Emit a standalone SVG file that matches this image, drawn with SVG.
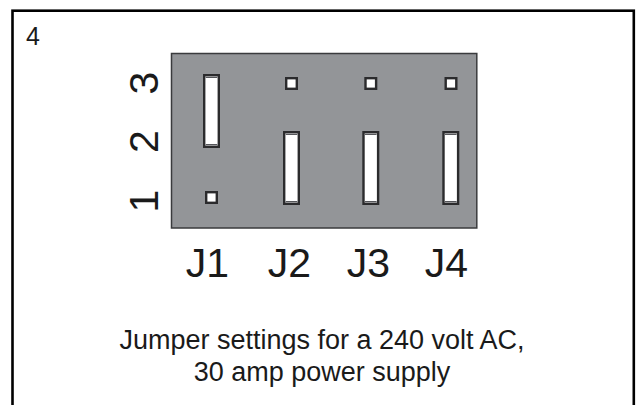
<svg xmlns="http://www.w3.org/2000/svg" width="636" height="405" viewBox="0 0 636 405">
<style>
text{font-family:"Liberation Sans",Arial,sans-serif;fill:#1a1a1a}
.j{font-size:41px;text-anchor:middle}
.n{font-size:41px;text-anchor:middle}
.c{font-size:27px;text-anchor:middle}
.s{fill:#fff;stroke:#2b2b2d;stroke-width:2.400}
.l{fill:#fff;stroke:#2b2b2d;stroke-width:2.400}
.t{stroke:#55565a;stroke-width:1.200;fill:none}
</style>
<defs>
<g id="long"><rect class="l" x="0" y="0" width="14.600" height="71.600"/><path class="t" d="M1.500 2.200H13.100M1.500 69.400H13.100"/></g>
<rect id="pin" class="s" x="0" y="0" width="10.600" height="10.600"/>
</defs>
<rect x="12.500" y="10.700" width="621.300" height="400" fill="#fff" stroke="#000" stroke-width="2.600"/>
<text x="26" y="44.500" style="font-size:25px">4</text>
<g id="board"><rect x="171.500" y="53.500" width="305.300" height="174.500" fill="#939598" stroke="#3a3b3d" stroke-width="1.500"/></g>
<g id="j1"><use href="#long" x="204.200" y="75.200"/><use href="#pin" x="206.200" y="192.200"/><text class="j" x="207.500" y="276.700">J1</text></g>
<g id="j2"><use href="#pin" x="286.200" y="78.200"/><use href="#long" x="284.200" y="132.200"/><text class="j" x="289.500" y="276.700">J2</text></g>
<g id="j3"><use href="#pin" x="365.500" y="78.200"/><use href="#long" x="363.500" y="132.200"/><text class="j" x="368.500" y="276.700">J3</text></g>
<g id="j4"><use href="#pin" x="445.700" y="78.200"/><use href="#long" x="443.500" y="132.200"/><text class="j" x="446.500" y="276.700">J4</text></g>
<g id="row-labels">
<text class="n" transform="translate(158 83) rotate(-90)">3</text>
<text class="n" transform="translate(158 141.500) rotate(-90)">2</text>
<text class="n" transform="translate(158 201) rotate(-90)">1</text>
</g>
<g id="caption">
<text class="c" x="322" y="348.500">Jumper settings for a 240 volt AC,</text>
<text class="c" x="322" y="380.500">30 amp power supply</text>
</g>
<g id="connectors"/>
</svg>
